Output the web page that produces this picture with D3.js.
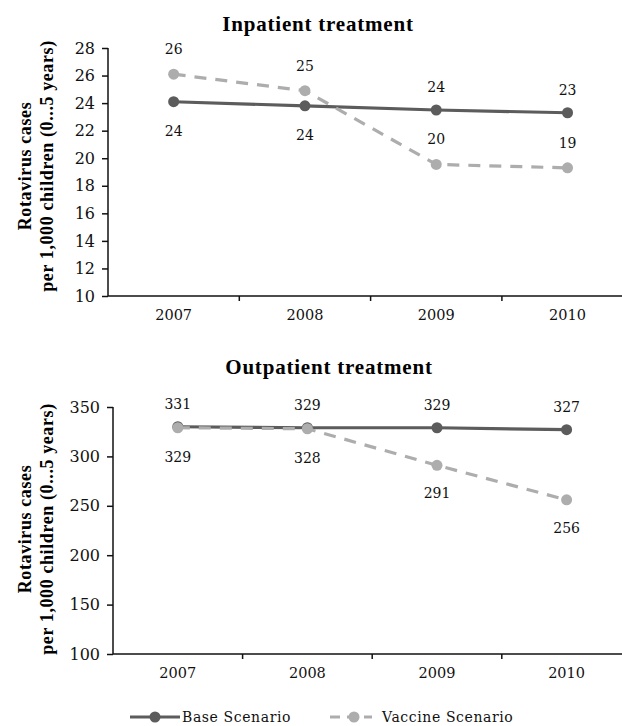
<!DOCTYPE html>
<html><head><meta charset="utf-8">
<script src="https://cdn.jsdelivr.net/npm/d3@7"></script>
<style>body{margin:0;background:#fff}svg{display:block}text{font-family:"DejaVu Serif",serif}</style>
</head><body>
<svg id="c" width="622" height="726"></svg>
<script>
const years = ["2007","2008","2009","2010"];
const inpatientBase = [24.1, 23.8, 23.5, 23.3];
const inpatientVaccine = [26.1, 24.9, 19.55, 19.3];
const inpatientBaseLabels = ["24","24","24","23"];
const inpatientVaccineLabels = ["26","25","20","19"];
const inpatientTicks = [10,12,14,16,18,20,22,24,26,28];
const outpatientBase = [330, 329, 329, 327];
const outpatientVaccine = [329, 328, 291, 256];
const outpatientBaseLabels = ["331","329","329","327"];
const outpatientVaccineLabels = ["329","328","291","256"];
const outpatientTicks = [100,150,200,250,300,350];
const seriesNames = ["Base Scenario","Vaccine Scenario"];
const colors = ["#5c5c5c","#adadad"];

const svg = d3.select("#c");
const SERIF = "'Liberation Serif','Times New Roman',serif";

function panel(cfg){
  const g = svg.append("g");
  const x = d3.scaleBand().domain(years).range([cfg.x0, cfg.x0 + 4*cfg.step]);
  const y = d3.scaleLinear().domain(cfg.domain).range([cfg.yBottom, cfg.yTop]);
  // title
  g.append("text").attr("x", cfg.titleX).attr("y", cfg.titleY).attr("text-anchor","middle")
    .attr("font-size", 21).attr("font-weight","bold").attr("letter-spacing",0.8)
    .style("font-family", SERIF).text(cfg.title);
  // y axis
  const ya = g.append("g").attr("transform",`translate(${cfg.x0},0)`)
    .call(d3.axisLeft(y).tickValues(cfg.ticks).tickSize(6).tickPadding(7));
  ya.selectAll("text").attr("font-size",16).attr("fill","#111").style("font-family","DejaVu Serif");
  ya.selectAll("line,path").attr("stroke","#111").attr("stroke-width",1.5);
  ya.select(".domain").attr("d", `M-0,${cfg.yTop}V${cfg.yBottom}`);
  // x axis
  const xa = g.append("g").attr("transform",`translate(0,${cfg.yBottom})`)
    .call(d3.axisBottom(x).tickSize(0).tickPadding(14));
  xa.selectAll("text").attr("font-size",14.5).attr("fill","#111").style("font-family","DejaVu Serif");
  xa.select(".domain").attr("stroke","#111").attr("stroke-width",1.5).attr("d",`M${cfg.x0},0H622`);
  // x tick marks at band boundaries
  g.selectAll(".xt").data(years.slice(1)).join("line")
    .attr("x1", d => x(d)).attr("x2", d => x(d))
    .attr("y1", cfg.yBottom).attr("y2", cfg.yBottom + 5)
    .attr("stroke","#111").attr("stroke-width",1.5);
  // y label
  ["Rotavirus cases","per 1,000 children (0...5 years)"].forEach((t,i)=>{
    g.append("text").attr("transform",`translate(${i?53:31},${cfg.labelY}) rotate(-90)`)
      .attr("text-anchor","middle").attr("font-size",18).attr("font-weight","bold")
      .attr("letter-spacing",0.6)
      .style("font-family", SERIF).text(t);
  });
  const cx = d => x(d) + x.bandwidth()/2;
  const line = d3.line().x((d,i)=>cx(years[i])).y(d=>y(d));
  const series = [
    {vals: cfg.base, labels: cfg.baseLabels, color: colors[0], dash: null, off: cfg.baseOff},
    {vals: cfg.vac, labels: cfg.vacLabels, color: colors[1], dash: "12,9", off: cfg.vacOff}
  ];
  series.forEach(s => {
    g.append("path").datum(s.vals).attr("d", line).attr("fill","none")
      .attr("stroke", s.color).attr("stroke-width",3.2).attr("stroke-dasharray", s.dash);
    g.selectAll(null).data(s.vals).join("circle")
      .attr("cx",(d,i)=>cx(years[i])).attr("cy", d=>y(d)).attr("r",5.5).attr("fill", s.color);
  });
  series.forEach(s => {
    g.selectAll(null).data(s.vals).join("text")
      .attr("x",(d,i)=>cx(years[i])).attr("y",(d,i)=>y(d)+s.off[i])
      .attr("text-anchor","middle").attr("font-size",14).attr("fill","#111")
      .text((d,i)=>s.labels[i]);
  });
}

panel({title:"Inpatient treatment", titleX:318, titleY:31, x0:108, step:131.3,
  domain:[10,28], yTop:48, yBottom:296, ticks:inpatientTicks, labelY:166,
  base:inpatientBase, vac:inpatientVaccine, baseLabels:inpatientBaseLabels, vacLabels:inpatientVaccineLabels,
  baseOff:[34,34,-18,-18], vacOff:[-20,-20,-20,-20]});

panel({title:"Outpatient treatment", titleX:329, titleY:374, x0:113, step:129.6,
  domain:[100,350], yTop:407, yBottom:654, ticks:outpatientTicks, labelY:529,
  base:outpatientBase, vac:outpatientVaccine, baseLabels:outpatientBaseLabels, vacLabels:outpatientVaccineLabels,
  baseOff:[-18,-18,-18,-18], vacOff:[34,34,33,33]});

// legend
const leg = svg.append("g");
const legItems = [{x:130, w:50}, {x:330, w:42}];
const legTextX = [182, 382];
seriesNames.forEach((n,i)=>{
  const it = legItems[i];
  leg.append("line").attr("x1",it.x).attr("x2",it.x+it.w).attr("y1",717).attr("y2",717)
    .attr("stroke",colors[i]).attr("stroke-width",3.2).attr("stroke-dasharray", i? "10,7": null);
  leg.append("circle").attr("cx",it.x+it.w/2+(i?3:0)).attr("cy",717).attr("r",5.5).attr("fill",colors[i]);
  leg.append("text").attr("x",legTextX[i]).attr("y",722).attr("font-size",14).attr("fill","#111")
    .attr("letter-spacing", 0.6).text(n);
});
</script>
</body></html>
